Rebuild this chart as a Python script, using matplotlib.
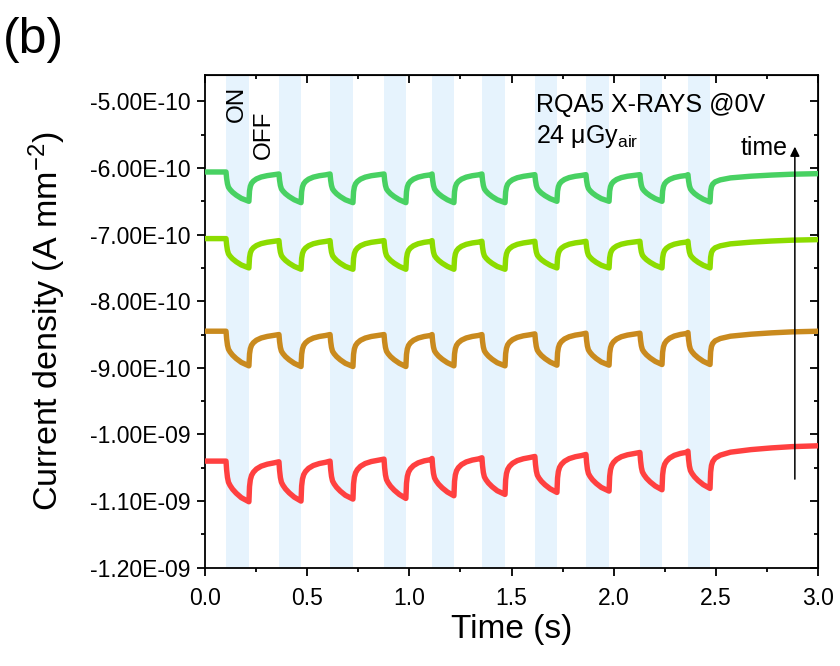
import matplotlib
matplotlib.use("Agg")
import matplotlib.pyplot as plt
from matplotlib.ticker import MultipleLocator, FuncFormatter

plt.rcParams['font.family'] = ['Liberation Sans', 'DejaVu Sans']
plt.rcParams['mathtext.fontset'] = 'custom'
plt.rcParams['mathtext.rm'] = 'Liberation Sans'
plt.rcParams['mathtext.it'] = 'Liberation Sans:italic'

# X-ray ON windows (s)
on_start = [0.103, 0.362, 0.612, 0.876, 1.111, 1.355, 1.614, 1.864, 2.128, 2.363]
on_end = [0.215, 0.470, 0.724, 0.983, 1.218, 1.468, 1.722, 1.977, 2.236, 2.471]
t_final = 3.0

# Read levels (units of 1e-10 A/mm^2): value just before each ON, value at end of each ON, final value
green_peak = [-6.06, -6.09, -6.09, -6.09, -6.09, -6.09, -6.10, -6.10, -6.10, -6.10]
green_bottom = [-6.50, -6.52, -6.52, -6.52, -6.52, -6.52, -6.50, -6.50, -6.50, -6.51]
green_final = -6.085

lime_peak = [-7.06, -7.09, -7.09, -7.09, -7.09, -7.10, -7.10, -7.10, -7.10, -7.10]
lime_bottom = [-7.50, -7.52, -7.52, -7.52, -7.52, -7.52, -7.50, -7.50, -7.50, -7.50]
lime_final = -7.075

brown_peak = [-8.45, -8.50, -8.50, -8.50, -8.50, -8.50, -8.49, -8.48, -8.48, -8.47]
brown_bottom = [-8.97, -8.98, -8.98, -8.98, -8.97, -8.97, -8.96, -8.96, -8.95, -8.95]
brown_final = -8.45

red_peak = [-10.40, -10.41, -10.40, -10.37, -10.36, -10.35, -10.33, -10.30, -10.27, -10.25]
red_bottom = [-11.01, -11.00, -10.97, -10.96, -10.92, -10.90, -10.87, -10.85, -10.83, -10.81]
red_final = -10.17

# Response shape (fraction of the step vs. time since switching)
on_dt = [0.0, 0.003, 0.007, 0.012, 0.020, 0.032, 0.050, 0.075]
on_frac = [0.0, 0.22, 0.40, 0.52, 0.60, 0.69, 0.79, 0.90]
off_dt = [0.0, 0.003, 0.007, 0.013, 0.022, 0.037, 0.060, 0.090, 0.120]
off_frac = [1.0, 0.62, 0.45, 0.34, 0.26, 0.18, 0.11, 0.06, 0.03]
tail_dt = [0.0, 0.003, 0.007, 0.013, 0.025, 0.05, 0.10, 0.20, 0.30, 0.40]
tail_frac = [1.0, 0.62, 0.46, 0.37, 0.29, 0.22, 0.15, 0.09, 0.05, 0.02]

series = [
    (green_peak, green_bottom, green_final, '#48D162'),
    (lime_peak, lime_bottom, lime_final, '#8CDC00'),
    (brown_peak, brown_bottom, brown_final, '#C98A1E'),
    (red_peak, red_bottom, red_final, '#FF4040'),
]

def build(peak, bottom, final):
    ts, vs = [0.0], [peak[0]]
    n = len(on_start)
    for k in range(n):
        for d, f in zip(on_dt, on_frac):
            ts.append(on_start[k] + d)
            vs.append(peak[k] + (bottom[k] - peak[k]) * f)
        ts.append(on_end[k]); vs.append(bottom[k])
        if k < n - 1:
            nxt, tn = peak[k + 1], on_start[k + 1]
            for d, f in zip(off_dt, off_frac):
                if on_end[k] + d < tn:
                    ts.append(on_end[k] + d)
                    vs.append(nxt + (bottom[k] - nxt) * f)
            ts.append(tn); vs.append(nxt)
        else:
            for d, f in zip(tail_dt, tail_frac):
                ts.append(on_end[k] + d)
                vs.append(final + (bottom[k] - final) * f)
            ts.append(t_final); vs.append(final)
    return ts, [v * 1e-10 for v in vs]

fig = plt.figure(figsize=(8.4, 6.66), dpi=100)
ax = fig.add_axes([0.244, 0.1476, 0.730, 0.7402])

for s, e in zip(on_start, on_end):
    ax.axvspan(s, e, color='#E6F3FD', lw=0, zorder=0)

for peak, bottom, final, col in series:
    t, v = build(peak, bottom, final)
    ax.plot(t, v, color=col, lw=3.9, solid_joinstyle='round', zorder=3)

ax.set_xlim(0, 3.0)
ax.set_ylim(-1.2e-9, -4.6e-10)
ax.xaxis.set_major_locator(MultipleLocator(0.5))
ax.xaxis.set_minor_locator(MultipleLocator(0.25))
ax.yaxis.set_major_locator(MultipleLocator(1e-10))
ax.yaxis.set_minor_locator(MultipleLocator(0.5e-10))
ax.yaxis.set_major_formatter(FuncFormatter(lambda v, p: f"{v:.2E}"))
ax.xaxis.set_major_formatter(FuncFormatter(lambda v, p: f"{v:.1f}"))

for sp in ax.spines.values():
    sp.set_linewidth(1.3)
ax.tick_params(axis='both', which='major', labelsize=16.5, length=6, width=1.3, direction='out')
ax.tick_params(axis='both', which='minor', length=3, width=1.3, direction='out')
ax.tick_params(axis='x', which='major', pad=8)
ax.tick_params(axis='y', which='major', pad=4.5)

# top / right ticks inward
axt = ax.secondary_xaxis('top')
axt.xaxis.set_major_locator(MultipleLocator(0.5))
axt.xaxis.set_minor_locator(MultipleLocator(0.25))
axt.tick_params(which='major', direction='in', length=6, width=1.3, labeltop=False)
axt.tick_params(which='minor', direction='in', length=3, width=1.3)
axr = ax.secondary_yaxis('right')
axr.yaxis.set_major_locator(MultipleLocator(1e-10))
axr.yaxis.set_minor_locator(MultipleLocator(0.5e-10))
axr.tick_params(which='major', direction='in', length=6, width=1.3, labelright=False)
axr.tick_params(which='minor', direction='in', length=3, width=1.3)

ax.set_xlabel('Time (s)', fontsize=24, labelpad=3)
ax.set_ylabel('Current density (A mm$^{\\mathregular{-2}}$)', fontsize=24.5, labelpad=16)

ax.text(1.62, -5.16e-10, 'RQA5 X-RAYS @0V', fontsize=18, va='baseline', ha='left')
ax.text(1.62, -5.625e-10, '24 μGy$_{\\mathregular{air}}$', fontsize=18, va='baseline', ha='left')
ax.text(2.621, -5.80e-10, 'time', fontsize=18, va='baseline', ha='left')
ax.annotate('', xy=(2.886, -5.68e-10), xytext=(2.886, -10.67e-10),
            arrowprops=dict(arrowstyle='-|>', color='black', lw=1.1, mutation_scale=14, shrinkA=0, shrinkB=0))
ax.text(0.155, -5.04e-10, 'ON', fontsize=17.5, rotation=90, ha='center', va='center')
ax.text(0.289, -5.50e-10, 'OFF', fontsize=17.5, rotation=90, ha='center', va='center')

fig.text(0.004, 0.975, '(b)', fontsize=36, ha='left', va='top')

fig.savefig('out.png', dpi=100)
